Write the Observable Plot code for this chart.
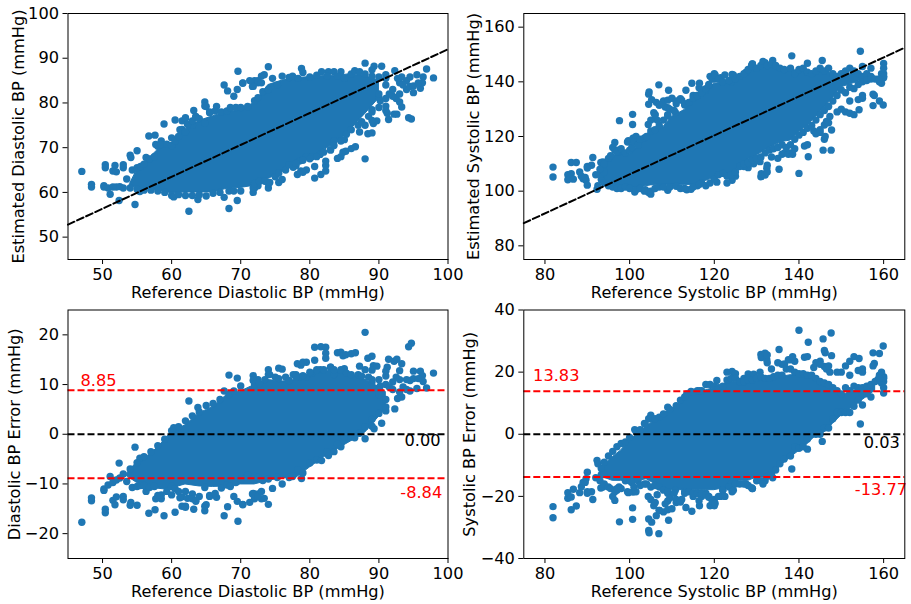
<!DOCTYPE html>
<html><head><meta charset="utf-8">
<script src="https://cdn.jsdelivr.net/npm/d3@7"></script>
<script src="https://cdn.jsdelivr.net/npm/@observablehq/plot@0.6"></script>
<style>html,body{margin:0;background:#fff}#c{position:relative;width:911px;height:604px;overflow:hidden}</style>
</head><body><div id="c"></div>
<script>
const blue="#1f77b4";
// individual readings: [reference, estimated]
const diaOutliers=[[47,64.7],[48.4,61.8],[48.4,61.2],[50.2,61.5],[50.4,66.2],[50.4,65.5],[51.1,59.6],[51.5,64.8],[51.8,66],[52,64.6],[52.4,58.2],[53,65.5],[53,66.2],[54,68.3],[54.1,67.8],[54.7,57.3],[55,69.3],[55.4,60.2],[56.3,67.8],[56.7,72.6],[57.6,72.8],[58.9,75.3],[60,72.2],[60.5,76.2],[61.5,76],[62,76.5],[62.5,55.8],[63.2,78.3],[63.8,58.4],[64.8,80.2],[64.8,79.3],[67.6,84],[67.6,58.9],[68.1,82.7],[68.3,56.4],[69,81.5],[69.5,58.2],[69.6,87.1],[69.5,83],[70.3,84.4],[71.8,60],[71.8,83.7],[72,85],[73.4,86.3],[74,88.1],[74,61],[75.5,62.2],[76,62.9],[78,66],[78.7,64.8],[79.5,65],[80.7,63.2],[80.7,65.8],[81.6,64],[82.3,64.8],[82.3,66],[82.3,67],[84,67.6],[84.5,68],[84.8,69],[85,71.8],[86,69.8],[86.6,70.2],[87.2,73.5],[88,67.5],[88.4,73.1],[89,73.3],[88,75],[89.2,75.4],[89.7,76],[89,76.1],[91.4,76.3],[91.2,77.7],[92.2,77.5],[92.6,77.5],[93.3,79.1],[94.3,76.7],[94.7,76.4],[88,88.9],[89.3,88.2],[90.4,88.2],[89,87.4],[92.3,87.2],[91,86.3],[93.3,85.8],[94,83],[95,82.3],[96,83.3],[96.3,84.5],[96.4,85.8],[96.9,87.6],[97.9,85.6],[95.5,86.3],[94.5,85.8],[93,80.2],[92.5,81],[91,79.3],[91,78.3],[90.2,80.5],[90,81.2],[89,78.5],[78.8,87.7],[82.7,87],
[62,76.7],[63,75],[63.5,77],[65,79.2],[65.5,78],[66.5,79.2],[58.5,71.5],[57.7,70.7],[61.5,74.1],[72.5,84.5],[71.7,83.7],[73,86],[70.3,84.5],[78.2,64],[79,64.5],[78.5,67],[79.5,68],[80.3,68],[81.5,68.5],[83,69.5],[83.5,71.5],[85.2,69.2],[72,61],[72.5,61.5],[74,62],[77.6,65.6]];
const diaUpperEdge=[[53.5,63],[54.3,65],[55,65.5],[55.5,65.8],[56,66.3],[56.8,67.5],[57.5,68],[58,70.3],[58.5,70.7],[59.3,70.8],[60,70.5],[60.5,71.5],[61,72.5],[61.2,74],[62,73.5],[62.3,75.2],[63,76],[63.5,76.8],[64,76.5],[64.8,75.5],[65.5,77.8],[66.3,78.2],[67.2,78],[68,78.2],[68.5,79],[69.3,79],[70,79],[71,79.2],[72,80.5],[72.5,81.2],[71.3,85],[72.5,85],[73,84.5],[73.2,82.5],[74,83],[74.6,85.5],[75.3,84],[76,86],[77,85.7],[77.5,86],[78.3,85.5],[79,86.8],[80,85.8],[81,86.2],[81.7,87],[82.5,86],[83.5,87],[84.5,87],[84,86],[85,85.5],[86,86.5],[86.5,87.2],[87.2,87],[88,86.5],[89,86],[90,85.8],[91,85.5]];
const diaLowerEdge=[[50.2,61.2],[50.8,61],[51.5,61.2],[52,61.2],[52.5,61.3],[53,61],[54,61],[55,60.7],[56,60.5],[57,60.5],[58,60.3],[59,60],[60,59.3],[60.3,59],[61,59.5],[62,59.3],[63,59.3],[64,59.5],[65,59.2],[66,59.8],[67,60],[68.3,60.3],[69,60.3],[70,60.3],[71.8,61],[72,62],[72.7,62.5],[73.5,62.5],[74.2,62.2],[75,63.5],[75.5,64.3],[76.5,65],[77,66.2],[78,66.5],[79,67.2],[80,67.5],[81,68],[82,69],[83,69.5],[83.5,70.5],[84.5,71.5],[85.3,73],[86,74],[87,75],[87.5,75.8],[88.5,77],[89,78],[90,79],[91,81],[92,81.5],[93,82],[91.5,82],[90,82],[91,84],[92,83],[93,84.5],[94,85],[92.7,85.5],[93.5,84],[94.5,83.7],[95,83.8],[95.7,84.5]];
const sysOutliers=[[81.9,108.8],[81.9,105.2],[85.4,106],[85.4,104.2],[86.2,106.4],[86.2,110.5],[86.7,104.4],[87.4,110.5],[88.2,107],[88.6,105.5],[89,104.5],[89.7,104],[90,102.2],[90,109],[91,109.5],[91.3,112.3],[92.3,100.7],[93.2,110.5],[96.5,117.8],[97.6,125.8],[100.7,128.1],[100.7,124.4],[99.7,118.5],[100.8,119.4],[104.4,124.4],[104.5,131.8],[104.5,135.5],[104.6,136.3],[105.2,133.5],[106,128],[106.5,126],[106.3,132.5],[106.9,138.9],[107,131.5],[108,133],[108.4,130.8],[109.2,136.9],[109,133.3],[113.3,136.9],[114.7,139.5],[116.4,137.8],[116.5,139.5],[118,137],[101.2,99.7],[103.5,100],[104.5,99.5],[105,98.9],[109,100.3],[113.5,100.5],[114.5,100.7],[116,102],[117,103],[120.6,103.3],[124.2,104],[125,105.5],[128,108.6],[129.3,110],[130.8,110.8],[131,105.3],[131.1,106.4],[132,105.9],[132.5,109.5],[133.5,112.5],[135.3,108],[140,106.5],[136,113.5],[138,114],[139,115.5],[141.3,116.5],[142,117],[142.2,112.6],[145.7,115],[147.6,115],[146,119],[146.2,120],[147.7,122.4],[145,121.5],[143.5,122],[146,124.2],[146.5,125.5],[147.3,127.3],[150,130],[151,129],[152,128.5],[153,128],[154.2,129.8],[157.5,131.3],[159,133],[159.9,131.5],[157.8,135],[155,134],[154,133.5],[152,133],[138.3,149.5],[154.5,151.2],[145.5,147.8],[142,146.8],[132,147],[133.8,147.8],[129,146.5],[160,146.7],[155,145.6],[157,145],[158.7,141],[159.5,143],[160,143],[160,141.5],[159.5,139.5],
[123,103],[127,109],[128,110],[132.4,108.4],[132.5,107],[135,112],[136.6,114],[137.5,113.5],[138.5,113.5],[144,121],[145,122.5],[147,125],[149,129],[155,135],[157.5,135.5],[159,140],[160,142],[160,145],
[105,126],[105.7,128.7],[106,128],[107,131.5],[109,130.5],[109,128],[110,134],[110.8,128.8],[111,133],[112.3,133.3],[113,131.5],[115,135],[116,135],[117,137],[118.7,138.7],[119,142],[120,143],[120,141],[121.5,141.5],[122,140],[124.2,142.7],[124,140],[127.5,143.5],[129,146.5],
[89.5,105],[90,108.5],[93.3,104.3],[93.3,106.3],[93.7,110.7],[94,107],[96,116],[97,115],[97.5,114.5],[99.5,118],[101.5,120]];
const sysUpperEdge=[[92,106],[93,108],[94,110],[95,112],[95.5,113],[96.5,115],[97,114.5],[98,115.5],[99,114],[100,115],[100.5,116],[101,118],[102,117],[102.5,119],[103.5,119.5],[104,120],[105,122],[106,122.5],[107,124],[108,126],[109,127.5],[109.5,130],[110.5,129.5],[111,132],[112,133.8],[113,132],[114,132.5],[115,134],[116,135],[117,136],[118,137.5],[118.7,139],[119.5,141],[120.2,142.5],[121,141],[122,140],[122.5,142.5],[123.5,140.5],[124.5,142.5],[125,141],[126,142],[127,143],[128,144.5],[128.8,146],[130,145],[131,146],[131.5,147.5],[132.5,146],[133.5,146.5],[134.5,146],[135.5,145],[136.5,144.5],[138,145],[139,143],[140,144.5],[141,145],[142,143.5],[143,143],[144,144],[145,145],[146,144],[147,145],[148,143],[149,142],[150,143],[151,144],[152,145],[153,144],[154,143],[155,142],[156,143],[157,142]];
const sysLowerEdge=[[92.5,102],[94,103],[95,102],[96,101.5],[97,101],[98,101],[99,101.5],[100,101],[101.5,100.5],[102.5,101],[103.7,100.5],[105,100],[106,101],[107,101.5],[108,101.5],[109.5,101.5],[111,101.8],[112,101],[113,101],[115,101.5],[116.5,102.5],[118,102],[119,103],[120,104.5],[121,106],[122,106.5],[123,105.5],[124,106],[125,107],[126,109],[127,110],[128,110.5],[129,111.5],[130,112],[131,112.5],[132,114],[133,115],[134,115.5],[135,116],[136,117],[137,116],[138,117],[139,119],[140,120.5],[141,121.5],[142,123],[143,124],[144,126],[145,128],[146,129.5],[147,131],[148,133],[149,135],[150,137],[151,136],[152,138],[153,137.5],[154,139],[155,140],[156,140.5],[157,141],[158,141],[159,141]];
const diaPoints=[...diaOutliers,...diaUpperEdge,...diaLowerEdge];
const sysPoints=[...sysOutliers,...sysUpperEdge,...sysLowerEdge];
// solid body of the overlapping points, read per reference value
const diaRef=[54,55,58,60,62,64,66,68,70,72,74,76,78,80,82,84,86,88,90];
const diaTop=[62,65,69.5,71,74,76,77,78,78.5,80,84,85,85.5,85.8,86,86,86.5,86,85];
const diaBot=[61.5,61,60.5,59.8,60,60,60,60.8,61,61.5,63,64.5,66.8,67.5,69.4,71.2,74.2,77.5,81];
const diaErrRef=[53.5,55,57,59,60,62,64,66,68,70,72,74,76,78,80,82,84,86,88,90,91];
const diaErrTop=[-8,-5.6,-4,-1.2,0.5,1.8,4.2,5.5,7.9,8.6,9.9,10.9,10.6,10.9,11.9,12.6,12.9,12,11,9.5,8.5];
const diaErrBot=[-8.4,-9.8,-10.8,-11.1,-10.9,-10.1,-10.5,-10.6,-10.5,-10.1,-10.1,-9.4,-8.8,-8.8,-6.7,-4.7,-3,-1.4,0.3,3.5,5];
const sysRef=[93,95,97,100,102,105,108,110,113,115,118,120,122,125,128,130,132,134,136,138,140,142,144,146,148,150,152,154,156,158];
const sysTop=[109,111.4,113.9,113.7,116.7,122.3,123.5,127.2,129.7,133.2,136.3,139.3,139.7,141.1,143.5,145.4,146,146,144.7,144.2,144.2,143.5,143.5,144.7,142.7,142,143,142.5,142.5,142];
const sysBot=[103,102.3,101.9,101.3,101.3,102.1,102.3,102.3,102.3,102.3,103.7,105,105.5,107.5,111.5,113,115,116.5,118,118.5,121.5,124,127,130.5,134,138,139,140,141.5,141.5];
const sysErrRef=[94,96,98,100,102,104,106,108,110,112,114,116,118,120,122,124,126,128,130,132,134,136,138,140,142,144,146,148,150,152,154,156,158];
const sysErrTop=[-10,-7.4,-5.2,-2,0.2,2.4,4.5,6.7,7.8,10,12.6,13,14.2,14.8,15.9,17,16.5,17,17.5,17.5,18,18.5,19,19,18.5,17.5,16,14.5,12.5,13.5,14.5,15,16];
const sysErrBot=[-14,-15,-15,-15,-15,-14.5,-16,-17.5,-18,-18,-18,-18,-18,-18,-17.5,-17,-15,-15,-14,-14,-13,-9.7,-7.5,-5.4,-3.2,-0.5,0.6,3.3,6,8,10,12,14];
const fitDiaX=[45,100],fitDiaY=[52.8,92];
const fitSysX=[75,165],fitSysY=[88.3,152.5];
const labels={diaErr:[["8.85",46.8,9.6,"red"],["0.00",93.7,-2.6,"black"],["-8.84",93.1,-13,"red"]],
 sysErr:[["13.83",77.2,16.8,"red"],["0.03",155.3,-4.6,"black"],["-13.77",153.2,-19.9,"red"]]};
const dash="7,3";
function area(xs,lo,hi){return Plot.areaY(xs.map((x,i)=>({x,lo:lo[i],hi:hi[i]})),{x:"x",y1:"lo",y2:"hi",fill:blue,stroke:blue,strokeWidth:1});}
function panel(o){
 const marks=[
  area(o.ex,o.lo,o.hi),
  Plot.dot(o.pts,{x:"0",y:"1",r:3.7,fill:blue,stroke:"none"}),
  ...(o.lines||[]),
  ...(o.labs||[]).map(l=>Plot.text([l],{x:"1",y:"2",text:"0",fill:l[3],textAnchor:"start",lineAnchor:"bottom",fontSize:16.2,dy:-1})),
  Plot.axisX({ticks:o.xt,tickSize:5,tickPadding:4,fontSize:16.2,label:o.xl,labelAnchor:"center",labelArrow:"none",labelOffset:38,color:"#000"}),
  Plot.axisY({ticks:o.yt,tickSize:5,tickPadding:4,fontSize:16.2,label:o.yl,labelAnchor:"center",labelArrow:"none",labelOffset:o.lo2,color:"#000"}),
  Plot.frame({stroke:"#000",strokeWidth:1})
 ];
 const p=Plot.plot({width:o.w,height:o.h,marginLeft:o.ml,marginRight:o.mr,marginTop:o.mt,marginBottom:o.mb,
  style:{background:"transparent",overflow:"visible",fontFamily:"'DejaVu Sans',sans-serif",fontSize:"16px",position:"absolute",left:o.left+"px",top:o.top+"px",maxWidth:"none"},
  x:{domain:o.xd,ticks:o.xt},y:{domain:o.yd,ticks:o.yt},marks});
 document.getElementById("c").appendChild(p);
}
const hline=(y,c)=>Plot.ruleY([y],{stroke:c,strokeWidth:2,strokeDasharray:dash});
const fit=(xs,ys)=>Plot.line(xs.map((x,i)=>[x,ys[i]]),{x:"0",y:"1",stroke:"#000",strokeWidth:2,strokeDasharray:dash});
const diaX=[50,60,70,80,90,100],sysX=[80,100,120,140,160];
const top0={h:302,mt:13,mb:43,top:0},bot0={h:302,mt:7.5,mb:46,top:302};
const left0={left:0,w:456,ml:67.5,mr:8.5},right0={left:456,w:455,ml:67.3,mr:6.7};
panel({...top0,...left0,xd:[45,100],yd:[45,100],xt:diaX,yt:[50,60,70,80,90,100],xl:"Reference Diastolic BP (mmHg)",yl:"Estimated Diastolic BP (mmHg)",lo2:56,ex:diaRef,lo:diaBot,hi:diaTop,pts:diaPoints,lines:[fit(fitDiaX,fitDiaY)]});
panel({...top0,...right0,xd:[75,165],yd:[75,165],xt:sysX,yt:[80,100,120,140,160],xl:"Reference Systolic BP (mmHg)",yl:"Estimated Systolic BP (mmHg)",lo2:56,ex:sysRef,lo:sysBot,hi:sysTop,pts:sysPoints,lines:[fit(fitSysX,fitSysY)]});
panel({...bot0,...left0,xd:[45,100],yd:[-25,25],xt:diaX,yt:[-20,-10,0,10,20],xl:"Reference Diastolic BP (mmHg)",yl:"Diastolic BP Error (mmHg)",lo2:60,ex:diaErrRef,lo:diaErrBot,hi:diaErrTop,pts:diaPoints.map(d=>[d[0],d[0]-d[1]]),lines:[hline(0,"#000"),hline(8.85,"red"),hline(-8.84,"red")],labs:labels.diaErr});
panel({...bot0,...right0,xd:[75,165],yd:[-40,40],xt:sysX,yt:[-40,-20,0,20,40],xl:"Reference Systolic BP (mmHg)",yl:"Systolic BP Error (mmHg)",lo2:60,ex:sysErrRef,lo:sysErrBot,hi:sysErrTop,pts:sysPoints.map(d=>[d[0],d[0]-d[1]]),lines:[hline(0,"#000"),hline(13.83,"red"),hline(-13.77,"red")],labs:labels.sysErr});
</script></body></html>
